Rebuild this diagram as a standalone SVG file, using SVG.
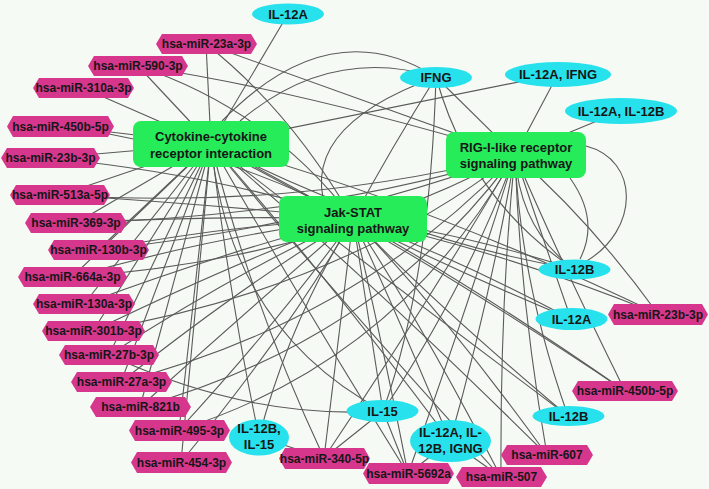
<svg xmlns="http://www.w3.org/2000/svg" width="709" height="489" viewBox="0 0 709 489">
<style>
.bg{fill:#f6faf4}
.e{fill:none;stroke:#5a5a5a;stroke-width:1.1}
.mi{fill:#d6378d}
.ge{fill:#27e2ec}
.pw{fill:#26ec5a}
.t{font-family:"Liberation Sans",Arial,sans-serif;font-weight:bold;fill:#161616;text-anchor:middle}
.ts{font-size:12px}
.tm{font-size:13px}
</style>
<rect class="bg" width="709" height="489"/>
<g id="edges">
<!-- left miRNA to Cytokine -->
<path class="e" d="M206,44 L211,144"/>
<path class="e" d="M138,66 L211,144"/>
<path class="e" d="M83,88 L211,144"/>
<path class="e" d="M60,126 L211,144"/>
<path class="e" d="M50,158 L211,144"/>
<path class="e" d="M60,195 L211,144"/>
<path class="e" d="M76,223 L211,144"/>
<path class="e" d="M98,250 L211,144"/>
<path class="e" d="M72,277 L211,144"/>
<path class="e" d="M84,304 L211,144"/>
<path class="e" d="M93,331 L211,144"/>
<path class="e" d="M109,355 L211,144"/>
<path class="e" d="M121,382 L211,144"/>
<path class="e" d="M140,407 L211,144"/>
<path class="e" d="M179,430 L211,144"/>
<path class="e" d="M181,462 L211,144"/>
<!-- left miRNA to Jak-STAT -->
<path class="e" d="M206,44 Q290,110 353,219"/>
<path class="e" d="M138,66 Q270,110 353,219"/>
<path class="e" d="M60,126 Q230,150 353,219"/>
<path class="e" d="M50,158 Q220,175 353,219"/>
<path class="e" d="M60,195 Q220,205 353,219"/>
<path class="e" d="M76,223 Q220,215 353,219"/>
<path class="e" d="M98,250 Q230,225 353,219"/>
<path class="e" d="M72,277 Q220,235 353,219"/>
<path class="e" d="M84,304 Q230,250 353,219"/>
<path class="e" d="M93,331 Q240,260 353,219"/>
<path class="e" d="M109,355 Q240,270 353,219"/>
<path class="e" d="M121,382 Q250,280 353,219"/>
<path class="e" d="M140,407 Q260,300 353,219"/>
<path class="e" d="M179,430 Q280,320 353,219"/>
<path class="e" d="M181,462 Q290,330 353,219"/>
<!-- left miRNA to RIG-I -->
<path class="e" d="M206,44 L515,155"/>
<path class="e" d="M138,66 Q300,90 515,155"/>
<path class="e" d="M60,195 Q300,210 515,155"/>
<path class="e" d="M76,223 Q330,215 515,155"/>
<path class="e" d="M98,250 Q330,225 515,155"/>
<path class="e" d="M72,277 Q320,260 515,155"/>
<path class="e" d="M93,331 Q340,290 515,155"/>
<path class="e" d="M121,382 Q360,320 515,155"/>
<path class="e" d="M140,407 Q380,340 515,155"/>
<path class="e" d="M179,430 Q400,360 515,155"/>
<!-- bottom / right miRNAs -->
<path class="e" d="M324,458 Q250,300 211,144"/>
<path class="e" d="M324,458 L353,219"/>
<path class="e" d="M324,458 Q430,300 515,155"/>
<path class="e" d="M408,474 Q300,300 211,144"/>
<path class="e" d="M408,474 Q380,330 353,219"/>
<path class="e" d="M408,474 Q470,300 515,155"/>
<path class="e" d="M501,477 Q330,290 211,144"/>
<path class="e" d="M501,477 Q420,320 353,219"/>
<path class="e" d="M501,477 Q500,300 515,155"/>
<path class="e" d="M547,455 Q360,270 211,144"/>
<path class="e" d="M547,455 Q450,320 353,219"/>
<path class="e" d="M547,455 Q520,300 515,155"/>
<path class="e" d="M625,391 Q400,240 211,144"/>
<path class="e" d="M625,391 Q480,290 353,219"/>
<path class="e" d="M625,391 Q560,260 515,155"/>
<path class="e" d="M658,314 Q420,200 211,144"/>
<path class="e" d="M658,314 Q500,250 353,219"/>
<path class="e" d="M658,314 Q590,220 515,155"/>
<!-- genes -->
<path class="e" d="M288,14 L211,144"/>
<path class="e" d="M436,77 Q330,10 222,121"/>
<path class="e" d="M436,77 Q330,45 240,121"/>
<path class="e" d="M436,77 Q290,130 330,219"/>
<path class="e" d="M436,77 Q390,150 353,219"/>
<path class="e" d="M436,77 L515,155"/>
<path class="e" d="M436,77 Q470,200 574,269"/>
<path class="e" d="M436,77 Q430,280 383,411"/>
<path class="e" d="M558,74 L211,144"/>
<path class="e" d="M558,74 L515,155"/>
<path class="e" d="M621,111 L515,155"/>
<path class="e" d="M586,146 C640,160 640,230 585,262"/>
<path class="e" d="M570,178 Q600,220 580,259"/>
<path class="e" d="M574,269 Q400,240 211,144"/>
<path class="e" d="M574,269 Q450,230 353,219"/>
<path class="e" d="M574,269 Q520,230 515,155"/>
<path class="e" d="M571,319 Q380,240 211,144"/>
<path class="e" d="M571,319 Q460,260 353,219"/>
<path class="e" d="M571,319 Q540,230 515,155"/>
<path class="e" d="M568,416 Q360,260 211,144"/>
<path class="e" d="M568,416 Q430,300 353,219"/>
<path class="e" d="M568,416 Q520,280 515,155"/>
<path class="e" d="M383,411 Q230,330 211,144"/>
<path class="e" d="M383,411 L353,219"/>
<path class="e" d="M383,411 Q470,280 515,155"/>
<path class="e" d="M383,411 L324,458"/>
<path class="e" d="M383,411 L408,474"/>
<path class="e" d="M383,411 Q250,420 109,355"/>
<path class="e" d="M259,437 Q230,300 211,144"/>
<path class="e" d="M259,437 Q290,320 353,219"/>
<path class="e" d="M259,437 L324,458"/>
<path class="e" d="M450,441 Q330,280 211,144"/>
<path class="e" d="M450,441 Q400,320 353,219"/>
<path class="e" d="M450,441 Q490,300 515,155"/>
<path class="e" d="M450,441 L501,477"/>
<path class="e" d="M450,441 L408,474"/>
</g>
<g id="cytokine"><rect class="pw" x="133" y="121" width="156" height="46" rx="8"/><text class="t tm" x="211" y="141">Cytokine-cytokine</text><text class="t tm" x="211" y="158">receptor interaction</text></g>
<g id="jakstat"><rect class="pw" x="279" y="196" width="148" height="46" rx="8"/><text class="t tm" x="353" y="217">Jak-STAT</text><text class="t tm" x="353" y="233">signaling pathway</text></g>
<g id="rigi"><rect class="pw" x="446" y="132" width="140" height="46" rx="8"/><text class="t tm" x="516" y="152">RIG-I-like receptor</text><text class="t tm" x="516" y="168">signaling pathway</text></g>
<g id="g-il12a-top"><ellipse class="ge" cx="288" cy="14" rx="36" ry="10.5"/><text class="t tm" x="288" y="18.5">IL-12A</text></g>
<g id="g-ifng"><ellipse class="ge" cx="436" cy="77.5" rx="36" ry="10.5"/><text class="t tm" x="436" y="82">IFNG</text></g>
<g id="g-il12a-ifng"><ellipse class="ge" cx="558" cy="74.5" rx="53" ry="12.5"/><text class="t tm" x="558" y="79">IL-12A, IFNG</text></g>
<g id="g-il12a-il12b"><ellipse class="ge" cx="621" cy="111" rx="56" ry="13"/><text class="t tm" x="621" y="115.5">IL-12A, IL-12B</text></g>
<g id="g-il12b-r"><ellipse class="ge" cx="574.5" cy="269.5" rx="36" ry="10"/><text class="t tm" x="574.5" y="274">IL-12B</text></g>
<g id="g-il12a-r"><ellipse class="ge" cx="571.5" cy="319" rx="36" ry="11"/><text class="t tm" x="571.5" y="323.5">IL-12A</text></g>
<g id="g-il12b-lr"><ellipse class="ge" cx="568.5" cy="416" rx="36" ry="10"/><text class="t tm" x="568.5" y="420.5">IL-12B</text></g>
<g id="g-il15"><ellipse class="ge" cx="382.5" cy="411" rx="36" ry="11"/><text class="t tm" x="382.5" y="415.5">IL-15</text></g>
<g id="g-il12b-il15"><ellipse class="ge" cx="259" cy="437.5" rx="30" ry="18"/><text class="t tm" x="259" y="433">IL-12B,</text><text class="t tm" x="259" y="449">IL-15</text></g>
<g id="g-il12a-il12b-igng"><ellipse class="ge" cx="450.5" cy="441" rx="40.5" ry="21"/><text class="t tm" x="450.5" y="437">IL-12A, IL-</text><text class="t tm" x="450.5" y="453">12B, IGNG</text></g>
<g id="m23a"><polygon class="mi" points="156,44 162,34 251,34 257,44 251,54 162,54"/><text class="t ts" x="206.5" y="48.3">hsa-miR-23a-3p</text></g>
<g id="m590"><polygon class="mi" points="88,66 94,56 182,56 188,66 182,76 94,76"/><text class="t ts" x="138" y="70.3">hsa-miR-590-3p</text></g>
<g id="m310a"><polygon class="mi" points="33,88 39,78 128,78 134,88 128,98 39,98"/><text class="t ts" x="83.5" y="92.3">hsa-miR-310a-3p</text></g>
<g id="m450b-l"><polygon class="mi" points="7,126.5 13,116 108,116 114,126.5 108,137 13,137"/><text class="t ts" x="60.5" y="130.8">hsa-miR-450b-5p</text></g>
<g id="m23b-l"><polygon class="mi" points="1,158 7,148 94,148 100,158 94,168 7,168"/><text class="t ts" x="50.5" y="162.3">hsa-miR-23b-3p</text></g>
<g id="m513a"><polygon class="mi" points="10,195 16,185 104,185 110,195 104,205 16,205"/><text class="t ts" x="60" y="199.3">hsa-miR-513a-5p</text></g>
<g id="m369"><polygon class="mi" points="25,223 31,213 121,213 127,223 121,233 31,233"/><text class="t ts" x="76" y="227.3">hsa-miR-369-3p</text></g>
<g id="m130b"><polygon class="mi" points="48,250 54,240 143,240 149,250 143,260 54,260"/><text class="t ts" x="98.5" y="254.3">hsa-miR-130b-3p</text></g>
<g id="m664a"><polygon class="mi" points="18,277 24,267 121,267 127,277 121,287 24,287"/><text class="t ts" x="72.5" y="281.3">hsa-miR-664a-3p</text></g>
<g id="m130a"><polygon class="mi" points="33,304 39,294 129,294 135,304 129,314 39,314"/><text class="t ts" x="84" y="308.3">hsa-miR-130a-3p</text></g>
<g id="m301b"><polygon class="mi" points="42,331 48,321 139,321 145,331 139,341 48,341"/><text class="t ts" x="93.5" y="335.3">hsa-miR-301b-3p</text></g>
<g id="m27b"><polygon class="mi" points="59,355 65,345 153,345 159,355 153,365 65,365"/><text class="t ts" x="109" y="359.3">hsa-miR-27b-3p</text></g>
<g id="m27a"><polygon class="mi" points="71,382 77,372 166,372 172,382 166,392 77,392"/><text class="t ts" x="121.5" y="386.3">hsa-miR-27a-3p</text></g>
<g id="m821b"><polygon class="mi" points="90,407 96,397 185,397 191,407 185,417 96,417"/><text class="t ts" x="140.5" y="411.3">hsa-miR-821b</text></g>
<g id="m495"><polygon class="mi" points="129,430.5 135,420 224,420 230,430.5 224,441 135,441"/><text class="t ts" x="179.5" y="434.8">hsa-miR-495-3p</text></g>
<g id="m454"><polygon class="mi" points="131,462.5 137,452 226,452 232,462.5 226,473 137,473"/><text class="t ts" x="181.5" y="466.8">hsa-miR-454-3p</text></g>
<g id="m340"><polygon class="mi" points="279,458.5 285,448 364,448 370,458.5 364,469 285,469"/><text class="t ts" x="324.5" y="462.8">hsa-miR-340-5p</text></g>
<g id="m5692a"><polygon class="mi" points="363,473.5 369,463 448,463 454,473.5 448,484 369,484"/><text class="t ts" x="408.5" y="477.8">hsa-miR-5692a</text></g>
<g id="m507"><polygon class="mi" points="456,477 462,467 541,467 547,477 541,487 462,487"/><text class="t ts" x="501.5" y="481.3">hsa-miR-507</text></g>
<g id="m607"><polygon class="mi" points="501,455 507,445 587,445 593,455 587,465 507,465"/><text class="t ts" x="547" y="459.3">hsa-miR-607</text></g>
<g id="m450b-r"><polygon class="mi" points="572,391 578,381 672,381 678,391 672,401 578,401"/><text class="t ts" x="625" y="395.3">hsa-miR-450b-5p</text></g>
<g id="m23b-r"><polygon class="mi" points="608,314.5 614,304 702,304 708,314.5 702,325 614,325"/><text class="t ts" x="658" y="318.8">hsa-miR-23b-3p</text></g>
</svg>
